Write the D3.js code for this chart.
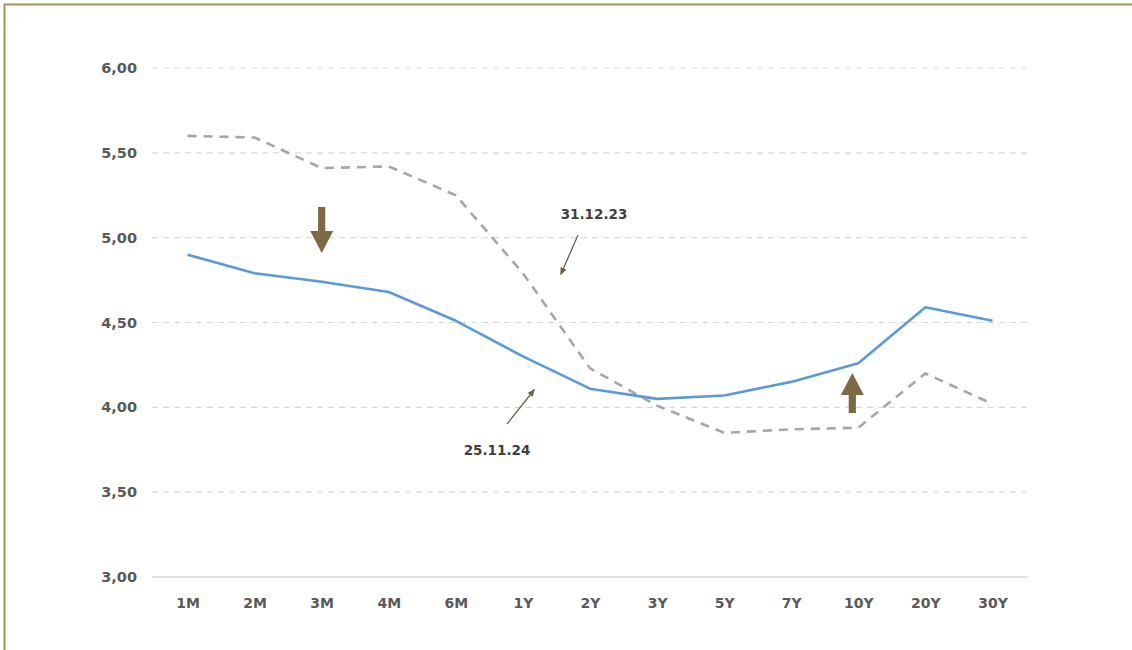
<!DOCTYPE html>
<html><head><meta charset="utf-8">
<script src="https://cdn.jsdelivr.net/npm/d3@7"></script>
<style>
html,body{margin:0;padding:0;background:#fff;}
svg{display:block;}
</style></head>
<body>
<svg id="chart" width="1132" height="650"></svg>
<script>
const categories = ["1M","2M","3M","4M","6M","1Y","2Y","3Y","5Y","7Y","10Y","20Y","30Y"];
const series2024 = [4.90,4.79,4.74,4.68,4.51,4.30,4.11,4.05,4.07,4.15,4.26,4.59,4.51];
const series2023 = [5.60,5.59,5.41,5.42,5.25,4.79,4.23,4.01,3.85,3.87,3.88,4.20,4.02];
const yTicks = [3.0,3.5,4.0,4.5,5.0,5.5,6.0];
const labels = ["31.12.23","25.11.24"];

(function(){
const FONT = "DejaVu Sans, Verdana, sans-serif";
const svg = d3.select("#chart");
const mLeft = 154, mRight = 1026, mTop = 68, mBottom = 577;
const x = d3.scalePoint().domain(categories).range([mLeft, mRight]).padding(0.5);
const y = d3.scaleLinear().domain([3, 6]).range([mBottom, mTop]);

// frame
svg.append("rect").attr("x",4.5).attr("y",4.5).attr("width",1300).attr("height",800)
  .attr("fill","none").attr("stroke","#a39559").attr("stroke-width",2);

// gridlines
svg.append("g").selectAll("line").data(yTicks.filter(d=>d>3)).join("line")
  .attr("x1",mLeft-2).attr("x2",mRight+2)
  .attr("y1",d=>y(d)).attr("y2",d=>y(d))
  .attr("stroke","#d9d9d9").attr("stroke-width",1.2).attr("stroke-dasharray","6,5");

// y axis
const yAxis = svg.append("g").attr("transform",`translate(${mLeft-2},0)`)
  .call(d3.axisLeft(y).tickValues(yTicks).tickSize(0).tickPadding(15)
    .tickFormat(d=>d3.format(".2f")(d).replace(".",",")));
yAxis.select(".domain").remove();
yAxis.selectAll("text").attr("font-family",FONT)
  .attr("font-size",14.5).attr("font-weight","bold").attr("fill","#595959");

// x axis
const xAxis = svg.append("g").attr("transform",`translate(0,${mBottom})`)
  .call(d3.axisBottom(x).tickSize(0).tickPadding(21));
xAxis.select(".domain").attr("stroke","#d9d9d9").attr("stroke-width",1.5)
  .attr("d",`M${mLeft-2},0H${mRight+2}`);
xAxis.selectAll("text").attr("font-family",FONT)
  .attr("font-size",14).attr("font-weight","bold").attr("fill","#595959");

const line = d3.line().x((d,i)=>x(categories[i])).y(d=>y(d));

svg.append("path").datum(series2023).attr("d",line)
  .attr("fill","none").attr("stroke","#a6a6a6").attr("stroke-width",2.6)
  .attr("stroke-dasharray","9,7");
svg.append("path").datum(series2024).attr("d",line)
  .attr("fill","none").attr("stroke","#5b9bd5").attr("stroke-width",2.6)
  .attr("stroke-linejoin","round");

// thick arrows
const brown = "#7d6a42";
function blockArrow(cx, yStart, yTip){
  const dir = yTip > yStart ? 1 : -1;
  const headLen = 22, headW = 11.5, shaftW = 3.6;
  const yHead = yTip - dir*headLen;
  const p = [[cx-shaftW,yStart],[cx+shaftW,yStart],[cx+shaftW,yHead],[cx+headW,yHead],
             [cx,yTip],[cx-headW,yHead],[cx-shaftW,yHead]];
  svg.append("path").attr("d","M"+p.map(q=>q.join(",")).join("L")+"Z").attr("fill",brown);
}
blockArrow(x("3M"), 207, 253);
blockArrow(x("10Y") - 6, 413, 373);

// annotation labels with thin arrows
svg.append("defs").append("marker").attr("id","ah").attr("viewBox","0 0 10 10")
  .attr("refX",8).attr("refY",5).attr("markerWidth",6).attr("markerHeight",6)
  .attr("orient","auto").append("path").attr("d","M0,1L10,5L0,9Z").attr("fill","#6b5f4a");

function thin(x1,y1,x2,y2){
  svg.append("line").attr("x1",x1).attr("y1",y1).attr("x2",x2).attr("y2",y2)
    .attr("stroke","#6b5f4a").attr("stroke-width",1.3).attr("marker-end","url(#ah)");
}
svg.append("text").attr("x",594).attr("y",219).attr("text-anchor","middle")
  .attr("font-family",FONT).attr("font-size",13.5)
  .attr("font-weight","bold").attr("fill","#404040").text(labels[0]);
thin(578,235,561,274);
svg.append("text").attr("x",497).attr("y",455).attr("text-anchor","middle")
  .attr("font-family",FONT).attr("font-size",13.5)
  .attr("font-weight","bold").attr("fill","#404040").text(labels[1]);
thin(507,424,534,390);
})();
</script>
</body></html>
